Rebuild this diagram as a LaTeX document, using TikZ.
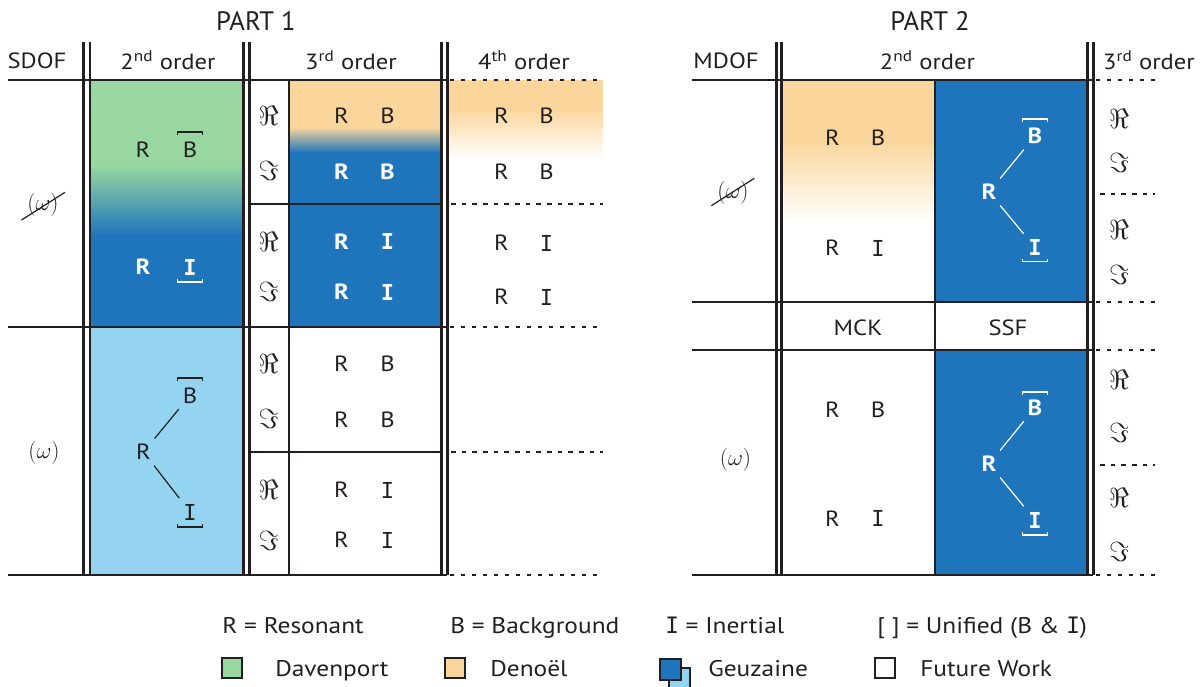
\documentclass[tikz,border=0pt]{standalone}
\usepackage{fontspec}
\setmainfont{PT Sans}
\newfontfamily\widesf{PT Sans}[FakeStretch=1.12]
\newfontfamily\monoI{DejaVu Sans Mono}
\usetikzlibrary{calc}
\definecolor{greenC}{RGB}{152,216,160}
\definecolor{orangeC}{RGB}{251,214,156}
\definecolor{blueC}{RGB}{31,117,188}
\definecolor{lblueC}{RGB}{148,212,240}
\definecolor{lineC}{RGB}{35,31,32}
\begin{document}
\begin{tikzpicture}[x=0.75pt,y=-0.75pt,
  ln/.style={draw=lineC, line width=2.2pt},
  dbl/.style={draw=lineC, line width=1.6pt},
  thinln/.style={draw=lineC, line width=1.1pt},
  dotln/.style={draw=lineC, line width=2.2pt, dash pattern=on 3pt off 5.25pt},
  dashln/.style={draw=lineC, line width=0.9pt, dash pattern=on 3.5pt off 4.5pt},
  hdr/.style={font=\widesf\fontsize{16.5}{18}\selectfont, text=lineC, inner sep=1pt},
  part/.style={font=\fontsize{20}{22}\selectfont, text=lineC},
  lt/.style={font=\widesf\fontsize{16.5}{18}\selectfont, inner sep=1pt, text=lineC},
  wt/.style={font=\widesf\bfseries\fontsize{16.5}{18}\selectfont, inner sep=1pt, text=white},
  fr/.style={font=\fontsize{20}{22}\selectfont, inner sep=1pt, text=lineC},
  om/.style={font=\fontsize{16}{18}\selectfont, inner sep=1pt, text=lineC},
  leg/.style={font=\widesf\fontsize{17}{19}\selectfont, text=lineC, inner sep=0pt, anchor=base west},
  brk/.style={draw=lineC, line width=0.8pt},
  wbrk/.style={draw=white, line width=0.8pt},
  tree/.style={draw=lineC, line width=0.9pt, shorten <=4pt, shorten >=4pt},
  wtree/.style={draw=white, line width=0.9pt, shorten <=4pt, shorten >=4pt},
  sq/.style={draw=lineC, line width=0.8pt}
]
\useasboundingbox (0,0) rectangle (1203,686);

% ---------- fills PART 1 ----------
\fill[greenC] (90,80) rectangle (243,165);
\shade[top color=greenC, bottom color=blueC] (90,165) rectangle (243,235.5);
\fill[blueC] (90,235) rectangle (243,327);
\fill[lblueC] (90,327) rectangle (243,575);
\fill[orangeC] (289,80) rectangle (441,127.5);
\shade[top color=orangeC, bottom color=blueC] (289,127) rectangle (441,152.5);
\fill[blueC] (289,152) rectangle (441,327);
\fill[orangeC] (447,80) rectangle (603,108.5);
\shade[top color=orangeC, bottom color=white] (447,108) rectangle (603,160);
% ---------- fills PART 2 ----------
\fill[orangeC] (781,80) rectangle (935,140.5);
\shade[top color=orangeC, bottom color=white] (781,140) rectangle (935,222);
\fill[blueC] (935,80) rectangle (1087,302);
\fill[blueC] (935,350) rectangle (1087,575);

% ---------- lines PART 1 ----------
\draw[ln] (8,80) -- (447,80);
\draw[ln] (8,327) -- (447,327);
\draw[ln] (8,575) -- (447,575);
\draw[thinln] (249,204) -- (441,204);
\draw[thinln] (249,452) -- (441,452);
\draw[thinln] (289,80) -- (289,575);
\foreach \xx in {83.5,90,243.5,249.5,441.5,447.5} \draw[dbl] (\xx,42) -- (\xx,575);
\draw[dotln] (450,80) -- (603,80);
\draw[dotln] (450,327) -- (603,327);
\draw[dotln] (450,575) -- (603,575);
\draw[dashln] (451,204) -- (603,204);
\draw[dashln] (451,452) -- (603,452);

% ---------- lines PART 2 ----------
\draw[ln] (692,80) -- (1093,80);
\draw[ln] (692,302) -- (1093,302);
\draw[ln] (692,350) -- (1093,350);
\draw[ln] (692,575) -- (1093,575);
\draw[ln] (935,80) -- (935,575);
\foreach \xx in {776.5,781.5,1087.5,1093.5} \draw[dbl] (\xx,42) -- (\xx,575);
\draw[dotln] (1096,80) -- (1160,80);
\draw[dotln] (1096,302) -- (1160,302);
\draw[dotln] (1096,350) -- (1160,350);
\draw[dotln] (1096,575) -- (1160,575);
\draw[dashln] (1100,194) -- (1155,194);
\draw[dashln] (1100,465) -- (1155,465);

% ---------- headers ----------
\node[part] (p1) at (256,21) {PART 1};
\node[part] (p2) at (930,21) {PART 2};
\node[hdr] (h1) at (37,60.5) {SDOF};
\node[hdr] (h2) at (168,60.5) {2\textsuperscript{nd} order};
\node[hdr] (h3) at (351,60.5) {3\textsuperscript{rd} order};
\node[hdr] (h4) at (524,60.5) {4\textsuperscript{th} order};
\node[hdr] (h5) at (726,60.5) {MDOF};
\node[hdr] (h6) at (927.5,60.5) {2\textsuperscript{nd} order};
\node[hdr] (h7) at (1149,60.5) {3\textsuperscript{rd} order};

% ---------- left labels ----------
\node[om] (cw1) at (43,205) {$(\omega)$};
\draw[lineC, line width=0.9pt] ($(cw1)+(-21.5,15)$) -- ($(cw1)+(22,-12.7)$);
\node[om] (w1) at (44,453) {$(\omega)$};
\node[om] (cw2) at (733,193) {$(\omega)$};
\draw[lineC, line width=0.9pt] ($(cw2)+(-21.7,12.7)$) -- ($(cw2)+(21.3,-14.7)$);
\node[om] (w2) at (735.5,460) {$(\omega)$};

% ---------- 2nd order PART 1 ----------
\node[lt] (g1r) at (143,150) {R};
\node[lt] (g1b) at (190,150) {B};
\draw[brk] ($(g1b)+(-12.5,-15)$) -- ++(0,-3) -- ++(25,0) -- ++(0,3);
\node[wt] (g2r) at (143,267) {R};
\node[wt] (g2i) at (190,267) {\monoI I};
\draw[wbrk] ($(g2i)+(-12.5,12)$) -- ++(0,3) -- ++(25,0) -- ++(0,-3);
\node[lt] (tr) at (143.5,452) {R};
\node[lt] (tb) at (190,395.5) {B};
\node[lt] (ti) at (190,512) {\monoI I};
\draw[tree] (tr) -- (tb);
\draw[tree] (tr) -- (ti);
\draw[brk] ($(tb)+(-12.5,-14.5)$) -- ++(0,-3) -- ++(25,0) -- ++(0,3);
\draw[brk] ($(ti)+(-12.5,12)$) -- ++(0,3) -- ++(25,0) -- ++(0,-3);

% ---------- 3rd order PART 1 ----------
\node[fr] (f1) at (268.5,116) {$\Re$};
\node[fr] (f2) at (268.5,171) {$\Im$};
\node[fr] (f3) at (268.5,242) {$\Re$};
\node[fr] (f4) at (268.5,292) {$\Im$};
\node[fr] (f5) at (268.5,364) {$\Re$};
\node[fr] (f6) at (268.5,419) {$\Im$};
\node[fr] (f7) at (268.5,490) {$\Re$};
\node[fr] (f8) at (268.5,541) {$\Im$};
\node[lt] (c1r) at (341.5,116) {R};
\node[lt] (c1b) at (387.5,116) {B};
\node[wt] (c2r) at (341.5,172) {R};
\node[wt] (c2b) at (387.5,172) {B};
\node[wt] (c3r) at (341.5,241.5) {R};
\node[wt] (c3i) at (387.5,241.5) {\monoI I};
\node[wt] (c4r) at (341.5,292) {R};
\node[wt] (c4i) at (387.5,292) {\monoI I};
\node[lt] (c5r) at (341.5,364) {R};
\node[lt] (c5b) at (387.5,364) {B};
\node[lt] (c6r) at (341.5,420) {R};
\node[lt] (c6b) at (387.5,420) {B};
\node[lt] (c7r) at (341.5,490) {R};
\node[lt] (c7i) at (387.5,490) {\monoI I};
\node[lt] (c8r) at (341.5,540) {R};
\node[lt] (c8i) at (387.5,540) {\monoI I};

% ---------- 4th order PART 1 ----------
\node[lt] (d1r) at (501.5,116) {R};
\node[lt] (d1b) at (546.5,116) {B};
\node[lt] (d2r) at (501.5,172) {R};
\node[lt] (d2b) at (546.5,172) {B};
\node[lt] (d3r) at (501.5,243) {R};
\node[lt] (d3i) at (546.5,243) {\monoI I};
\node[lt] (d4r) at (501.5,297) {R};
\node[lt] (d4i) at (546.5,297) {\monoI I};

% ---------- PART 2 cells ----------
\node[lt] (m1r) at (832.5,138) {R};
\node[lt] (m1b) at (878,138) {B};
\node[lt] (m2r) at (832.5,248) {R};
\node[lt] (m2i) at (878,248) {\monoI I};
\node[lt] (m3r) at (832.5,410) {R};
\node[lt] (m3b) at (878,410) {B};
\node[lt] (m4r) at (832.5,518.5) {R};
\node[lt] (m4i) at (878,518.5) {\monoI I};
\node[hdr] (mck) at (858,327.5) {MCK};
\node[hdr] (ssf) at (1008,327.5) {SSF};
% upper tree
\node[wt] (s1r) at (989,192) {R};
\node[wt] (s1b) at (1035,136) {B};
\node[wt] (s1i) at (1035,247.5) {\monoI I};
\draw[wtree] (s1r) -- (s1b);
\draw[wtree] (s1r) -- (s1i);
\draw[wbrk] ($(s1b)+(-12.5,-14)$) -- ++(0,-3) -- ++(25,0) -- ++(0,3);
\draw[wbrk] ($(s1i)+(-12.5,11)$) -- ++(0,3) -- ++(25,0) -- ++(0,-3);
% lower tree
\node[wt] (s2r) at (989,464) {R};
\node[wt] (s2b) at (1035,407.5) {B};
\node[wt] (s2i) at (1035,520) {\monoI I};
\draw[wtree] (s2r) -- (s2b);
\draw[wtree] (s2r) -- (s2i);
\draw[wbrk] ($(s2b)+(-12.5,-12.5)$) -- ++(0,-3) -- ++(25,0) -- ++(0,3);
\draw[wbrk] ($(s2i)+(-12.5,12)$) -- ++(0,3) -- ++(25,0) -- ++(0,-3);
% right column labels
\node[fr] (q1) at (1119,119) {$\Re$};
\node[fr] (q2) at (1119,163) {$\Im$};
\node[fr] (q3) at (1119,230) {$\Re$};
\node[fr] (q4) at (1119,275) {$\Im$};
\node[fr] (q5) at (1119,380) {$\Re$};
\node[fr] (q6) at (1119,433) {$\Im$};
\node[fr] (q7) at (1119,498) {$\Re$};
\node[fr] (q8) at (1119,552) {$\Im$};

% ---------- legend ----------
\node[leg] (l1) at (222,633) {R = Resonant};
\node[leg] (l2) at (450,633) {B = Background};
\node[leg] (l3) at (665,633) {{\monoI I} = Inertial};
\node[leg] (l4) at (877,633) {[ ] = Unified (B \& {\monoI I})};
\draw[sq, fill=greenC] (222,658) rectangle (242,678);
\node[leg] (k1) at (275,676) {Davenport};
\draw[sq, fill=orangeC] (445,658) rectangle (465,678);
\node[leg] (k2) at (490,676) {Deno\"el};
\draw[sq, fill=lblueC] (669,668) rectangle (690,689);
\draw[sq, fill=blueC] (660,659) rectangle (681,680);
\node[leg] (k3) at (708,676) {Geuzaine};
\draw[sq, fill=white] (875,658) rectangle (895,678);
\node[leg] (k4) at (920,676) {Future Work};
\end{tikzpicture}
\end{document}
